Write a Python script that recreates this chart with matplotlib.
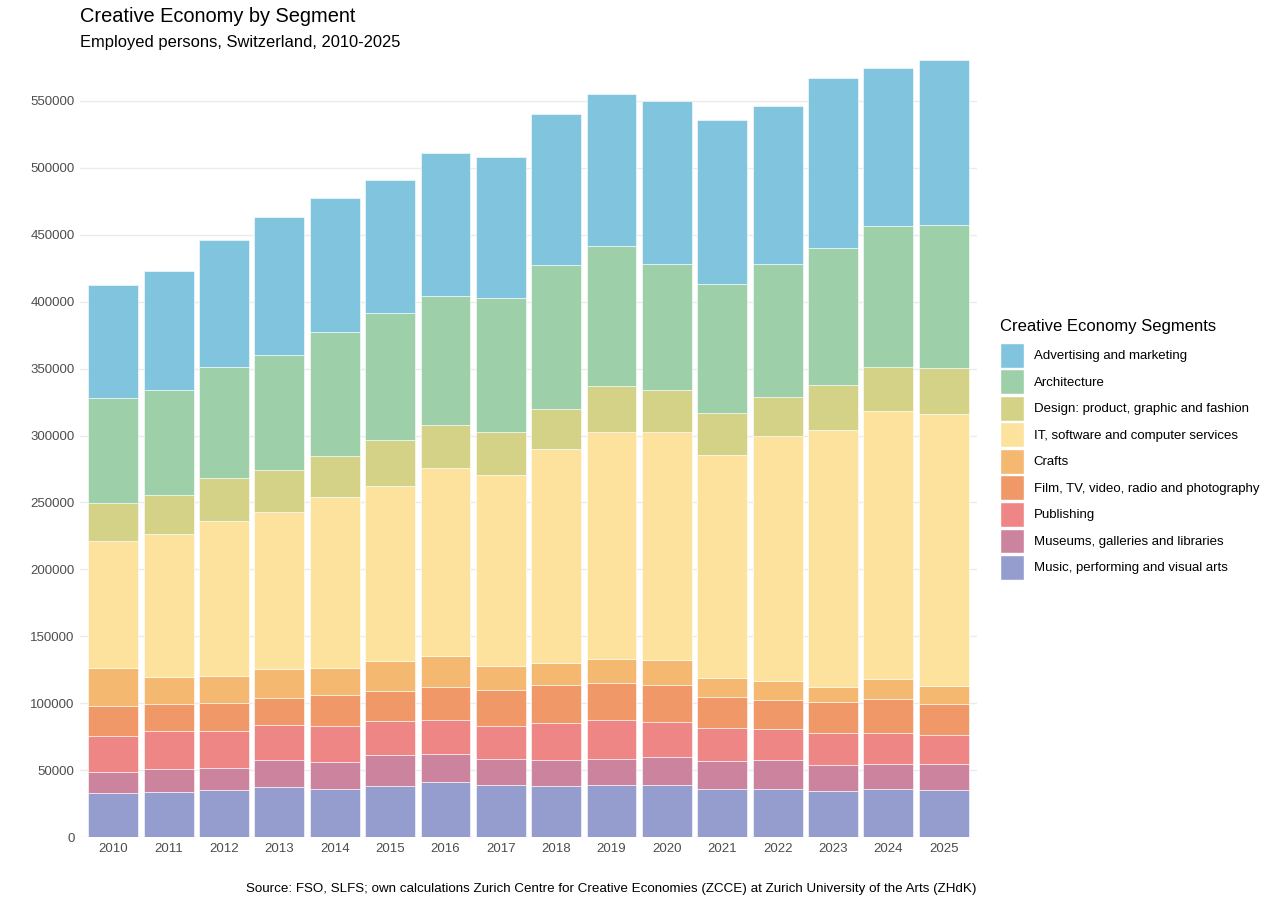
import numpy as np
import matplotlib
matplotlib.use("Agg")
import matplotlib.pyplot as plt
from matplotlib.patches import Patch

plt.rcParams['font.family'] = ['Liberation Sans', 'DejaVu Sans']

# -----------------------------
# Data (employed persons)
# -----------------------------
years = list(range(2010, 2026))

music = [32900, 33600, 35400, 37600, 35900, 38100, 41300, 38900, 38100, 38600, 39100, 35900, 36100, 34600, 36100, 35100]
museums = [15700, 17000, 16200, 20200, 20400, 22900, 21000, 19400, 19200, 19900, 20400, 20900, 21200, 19200, 18700, 19500]
publishing = [26900, 28600, 27400, 26100, 26900, 25700, 24900, 24400, 27900, 28900, 26200, 24900, 23400, 23700, 22700, 21600]
film = [22400, 20400, 20900, 20200, 22900, 22600, 24700, 26900, 28600, 27900, 27600, 23200, 21900, 23100, 25900, 23000]
crafts = [28100, 20000, 20700, 21700, 20200, 22200, 23100, 18200, 16500, 17900, 19200, 13700, 14000, 11700, 14500, 13400]
it_services = [95400, 107100, 115500, 117300, 127800, 131000, 141000, 142700, 159400, 169500, 169900, 166900, 183100, 192100, 200700, 203500]
design = [28200, 28900, 31900, 31400, 30400, 33900, 31900, 32200, 30300, 34600, 31600, 31300, 29300, 33600, 32900, 34600]
architecture = [78200, 78400, 83000, 85900, 92700, 95000, 96700, 100300, 107700, 104100, 94500, 96600, 99200, 102200, 105300, 106400]
advertising = [84900, 89000, 95000, 102900, 100300, 99600, 106400, 104900, 112200, 114100, 121600, 122400, 118400, 127000, 117500, 123500]

# bottom -> top stacking order
segments = [
    ("Music, performing and visual arts", music, "#959dcf"),
    ("Museums, galleries and libraries", museums, "#cc849e"),
    ("Publishing", publishing, "#ed8684"),
    ("Film, TV, video, radio and photography", film, "#f09868"),
    ("Crafts", crafts, "#f4b870"),
    ("IT, software and computer services", it_services, "#fde29d"),
    ("Design: product, graphic and fashion", design, "#d4d287"),
    ("Architecture", architecture, "#9dd0a9"),
    ("Advertising and marketing", advertising, "#80c4de"),
]

# -----------------------------
# Plot
# -----------------------------
fig = plt.figure(figsize=(12.8, 9.06), dpi=100)
ax = fig.add_axes([80 / 1280, 1 - 837 / 906, 897 / 1280, (837 - 60) / 906])

x = np.arange(len(years))
bottom = np.zeros(len(years))
for name, vals, col in segments:
    ax.bar(x, vals, bottom=bottom, width=0.9, color=col, edgecolor="white", linewidth=0.4)
    bottom += np.array(vals)

ax.set_xlim(-0.6, len(years) - 0.4)
ax.set_ylim(0, bottom.max())
ax.set_xticks(x)
ax.set_xticklabels([str(y) for y in years])
ax.set_yticks(np.arange(0, 550001, 50000))
ax.set_yticklabels([str(v) for v in range(0, 550001, 50000)])
ax.tick_params(length=0, labelsize=9.5, labelcolor="#4d4d4d", pad=4)
ax.yaxis.grid(True, color="#ebebeb", linewidth=1)
ax.set_axisbelow(True)
for s in ax.spines.values():
    s.set_visible(False)

# titles and caption
fig.text(80 / 1280, 1 - 16 / 906, "Creative Economy by Segment", fontsize=14.4, va="center", ha="left")
fig.text(80 / 1280, 1 - 43 / 906, "Employed persons, Switzerland, 2010-2025", fontsize=11.9, va="center", ha="left")
fig.text(976 / 1280, 1 - 889 / 906,
         "Source: FSO, SLFS; own calculations Zurich Centre for Creative Economies (ZCCE) at Zurich University of the Arts (ZHdK)",
         fontsize=9.65, va="center", ha="right")

# legend (top -> bottom order), title drawn separately
fig.text(1000 / 1280, 1 - 327 / 906, "Creative Economy Segments", fontsize=12, va="center", ha="left")
handles = [Patch(facecolor=col, edgecolor="white", label=name) for name, _, col in reversed(segments)]
leg = fig.legend(handles=handles, loc="upper left", bbox_to_anchor=(988 / 1280, 1 - 331 / 906),
                 frameon=False, fontsize=9.5, handlelength=1.85, handleheight=2.5,
                 labelspacing=0.14, handletextpad=0.72)

plt.savefig("out.png", dpi=100)
